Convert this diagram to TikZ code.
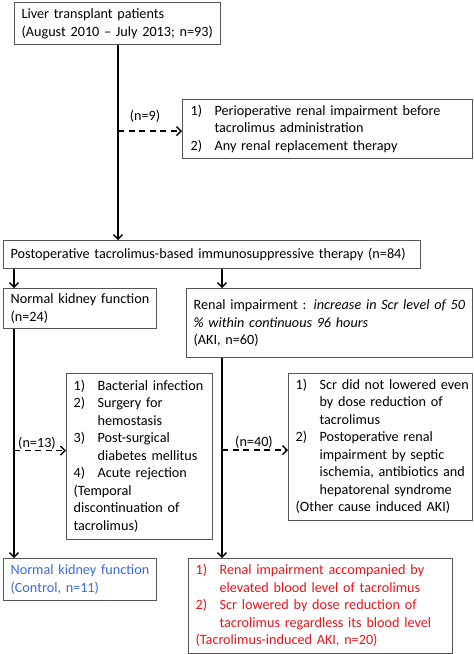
\documentclass[tikz,border=0pt]{standalone}
\usepackage{fontspec}
\setmainfont{Carlito}
\usetikzlibrary{arrows.meta,calc}
\definecolor{boxgray}{HTML}{555555}
\definecolor{ctrlblue}{HTML}{3A6BD8}
\definecolor{akired}{HTML}{E8131B}
\begin{document}
\begin{tikzpicture}[x=1pt,y=-1pt,
  box/.style={draw=boxgray, line width=1.2pt, anchor=north west, inner xsep=7pt, inner ysep=0pt,
    align=left, font=\fontsize{14.2}{17.5}\selectfont},
  flow/.style={line width=1.6pt, -{Straight Barb[length=4.5pt,width=9pt,line width=1.4pt]}},
  excl/.style={flow, dashed, dash pattern=on 6pt off 4.5pt},
  lbl/.style={font=\fontsize{14.2}{17.5}\selectfont, inner sep=0pt}]
\useasboundingbox (0,0) rectangle (474,654);
\def\lst#1{\begin{tabular}{@{}p{17pt}@{\hspace{7pt}}l@{}}#1\end{tabular}}
\node[box, text width=192pt, minimum height=42pt] (b1) at (14,2)
  {Liver transplant patients\\(August 2010 -- July 2013; n=93)};
\node[box, text width=274pt, minimum height=59pt, inner xsep=8pt] (ex1) at (182,99)
  {\lst{1) & Perioperative renal impairment before\\ & tacrolimus administration\\2) & Any renal replacement therapy}};
\node[box, text width=403pt, minimum height=28pt] (b2) at (3,240)
  {Postoperative tacrolimus-based immunosuppressive therapy (n=84)};
\node[box, text width=139pt, minimum height=40pt] (nk) at (3,288)
  {Normal kidney function\\(n=24)};
\node[box, text width=272pt, minimum height=69pt] (ri) at (186,288)
  {Renal impairment : \textit{increase in Scr level of 50}\\\textit{\% within continuous 96 hours}\\(AKI, n=60)};
\node[box, text width=132pt, minimum height=166pt] (ex2) at (66,373)
  {\lst{1) & Bacterial infection\\2) & Surgery for\\ & hemostasis\\3) & Post-surgical\\ & diabetes mellitus\\4) & Acute rejection\\\multicolumn{2}{@{}l@{}}{(Temporal}\\\multicolumn{2}{@{}l@{}}{discontinuation of}\\\multicolumn{2}{@{}l@{}}{tacrolimus)}}};
\node[box, text width=170pt, minimum height=147pt] (ex3) at (288,373)
  {\lst{1) & Scr did not lowered even\\ & by dose reduction of\\ & tacrolimus\\2) & Postoperative renal\\ & impairment by septic\\ & ischemia, antibiotics and\\ & hepatorenal syndrome\\\multicolumn{2}{@{}l@{}}{(Other cause induced AKI)}}};
\node[box, text width=139pt, minimum height=42pt, text=ctrlblue] (ctrl) at (3,558)
  {Normal kidney function\\(Control, n=11)};
\node[box, text width=250pt, minimum height=95pt, text=akired] (red) at (188,558)
  {\lst{1) & Renal impairment accompanied by\\ & elevated blood level of tacrolimus\\2) & Scr lowered by dose reduction of\\ & tacrolimus regardless its blood level\\\multicolumn{2}{@{}l@{}}{(Tacrolimus-induced AKI, n=20)}}};
\coordinate (xm) at (118,0);
\coordinate (xl) at (14,0);
\coordinate (xr) at (222,0);
\draw[flow] (b1.south -| xm) -- (b2.north -| xm);
\draw[excl] ($(ex1.west -| xm)+(0,2)$) -- ($(ex1.west)+(0,2)$);
\node[lbl] (n9) at (145,116) {(n=9)};
\draw[flow] (b2.south -| xl) -- (nk.north -| xl);
\draw[flow] (b2.south -| xr) -- (ri.north -| xr);
\draw[flow] (nk.south -| xl) -- (ctrl.north -| xl);
\draw[flow] (ri.south -| xr) -- (red.north -| xr);
\draw[excl] ($(ex2.west -| xl)+(0,-6)$) -- ($(ex2.west)+(0,-6)$);
\node[lbl] (n13) at (37,443) {(n=13)};
\draw[excl] ($(ex3.west -| xr)+(0,3)$) -- ($(ex3.west)+(0,3)$);
\node[lbl] (n40) at (254,442) {(n=40)};
\end{tikzpicture}
\end{document}
